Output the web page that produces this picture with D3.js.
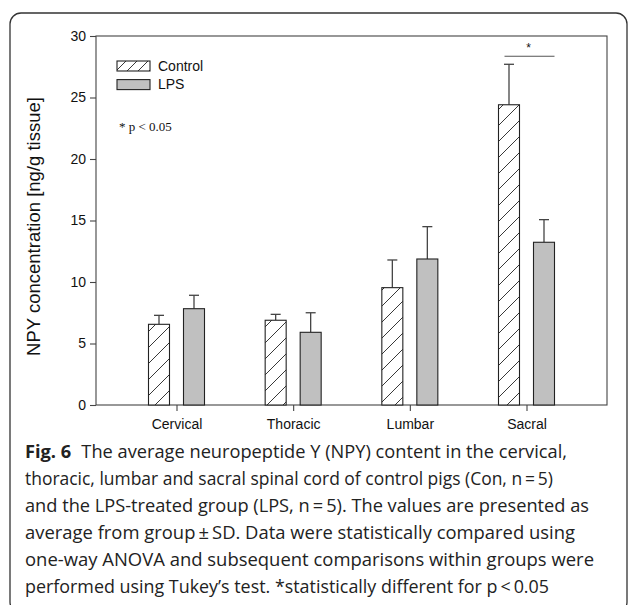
<!DOCTYPE html>
<meta charset="utf-8">
<script src="https://d3js.org/d3.v7.min.js"></script>
<style>
  body { margin: 0; background: #fff; }
</style>
<body>
<svg width="629" height="605" font-family="Liberation Sans, Arial, sans-serif"></svg>
<script>
  // values
  var regions = ["Cervical", "Thoracic", "Lumbar", "Sacral"];
  var groups = ["Control", "LPS"];
  var controlMean = [6.56, 6.89, 9.54, 24.41];
  var controlSD = [0.73, 0.48, 2.25, 3.29];
  var lpsMean = [7.83, 5.91, 11.87, 13.23];
  var lpsSD = [1.09, 1.59, 2.63, 1.84];
  var yTicks = [0, 5, 10, 15, 20, 25, 30];
  var sigRegion = "Sacral", sigLevel = 28.35;

  var captionBold = "Fig. 6";
  var captionLines = [
    "The average neuropeptide Y (NPY) content in the cervical,",
    "thoracic, lumbar and sacral spinal cord of control pigs (Con, n\u2009=\u20095)",
    "and the LPS-treated group (LPS, n\u2009=\u20095). The values are presented as",
    "average from group\u2009\u00b1\u2009SD. Data were statistically compared using",
    "one-way ANOVA and subsequent comparisons within groups were",
    "performed using Tukey\u2019s test. *statistically different for p\u2009<\u20090.05"
  ];
  var captionWidths = [542, 528, 564, 550, 569, 524];

  var svg = d3.select("svg");

  // outer rounded frame
  svg.append("rect")
    .attr("x", 10).attr("y", 13)
    .attr("width", 617).attr("height", 600)
    .attr("rx", 11)
    .attr("fill", "none")
    .attr("stroke", "#333")
    .attr("stroke-width", 1.3);

  var pLeft = 96, pRight = 607, pTop = 36, pBottom = 405;

  var x = d3.scalePoint().domain(regions).range([pLeft, pRight]).padding(0.69);
  var x1 = d3.scaleBand().domain(groups).range([-28, 28]).paddingInner(0.4);
  var y = d3.scaleLinear().domain([0, 30]).range([pBottom, pTop]);

  var defs = svg.append("defs");
  function hatch(id, size) {
    var p = defs.append("pattern")
      .attr("id", id)
      .attr("patternUnits", "userSpaceOnUse")
      .attr("width", size).attr("height", size);
    p.append("rect").attr("width", size).attr("height", size).attr("fill", "#fff");
    p.append("path")
      .attr("d", "M0," + size + "L" + size + ",0M-2,2L2,-2M" + (size - 2) + "," + (size + 2) + "L" + (size + 2) + "," + (size - 2))
      .attr("stroke", "#222").attr("stroke-width", 0.9);
  }
  hatch("hatchBar", 16);
  hatch("hatchLeg", 11);

  // plot box
  svg.append("rect")
    .attr("x", pLeft).attr("y", pTop)
    .attr("width", pRight - pLeft).attr("height", pBottom - pTop)
    .attr("fill", "none").attr("stroke", "#444").attr("stroke-width", 1.1);

  var data = [];
  regions.forEach(function (r, i) {
    data.push({ region: r, group: "Control", mean: controlMean[i], sd: controlSD[i] });
    data.push({ region: r, group: "LPS", mean: lpsMean[i], sd: lpsSD[i] });
  });

  // error bars (upper only)
  var err = svg.append("g").attr("stroke", "#444").attr("stroke-width", 1.3);
  data.forEach(function (d) {
    var cx = x(d.region) + x1(d.group) + x1.bandwidth() / 2;
    err.append("line")
      .attr("x1", cx).attr("x2", cx)
      .attr("y1", y(d.mean)).attr("y2", y(d.mean + d.sd));
    err.append("line")
      .attr("x1", cx - 5).attr("x2", cx + 5)
      .attr("y1", y(d.mean + d.sd)).attr("y2", y(d.mean + d.sd));
  });

  // bars
  svg.append("g").selectAll("rect")
    .data(data)
    .enter().append("rect")
    .attr("x", function (d) { return x(d.region) + x1(d.group); })
    .attr("y", function (d) { return y(d.mean); })
    .attr("width", x1.bandwidth())
    .attr("height", function (d) { return pBottom - y(d.mean); })
    .attr("fill", function (d) { return d.group === "Control" ? "url(#hatchBar)" : "#c0c0c0"; })
    .attr("stroke", "#222")
    .attr("stroke-width", 1.1);

  // axes
  var yAxis = svg.append("g")
    .attr("transform", "translate(" + pLeft + ",0)")
    .call(d3.axisLeft(y).tickValues(yTicks).tickSize(6).tickSizeOuter(0).tickPadding(4));
  var xAxis = svg.append("g")
    .attr("transform", "translate(0," + pBottom + ")")
    .call(d3.axisBottom(x).tickSize(6).tickSizeOuter(0).tickPadding(8));
  [yAxis, xAxis].forEach(function (g) {
    g.select(".domain").remove();
    g.attr("font-family", null).attr("font-size", null);
    g.selectAll("line").attr("stroke", "#444").attr("stroke-width", 1.1);
    g.selectAll("text")
      .attr("fill", "#111")
      .style("font-size", "14px");
  });

  // y label
  svg.append("text")
    .attr("transform", "translate(40," + ((pTop + pBottom) / 2 + 6) + ") rotate(-90)")
    .attr("text-anchor", "middle")
    .attr("fill", "#111")
    .style("font-size", "18.5px")
    .text("NPY concentration [ng/g tissue]");

  // legend
  var legend = svg.append("g");
  groups.forEach(function (g, i) {
    legend.append("rect")
      .attr("x", 117).attr("y", 61 + i * 18.6)
      .attr("width", 33).attr("height", 10)
      .attr("fill", g === "Control" ? "url(#hatchLeg)" : "#c0c0c0")
      .attr("stroke", "#222").attr("stroke-width", 1.1);
    legend.append("text")
      .attr("x", 158).attr("y", 71 + i * 18)
      .attr("fill", "#111")
      .style("font-size", "14px")
      .text(g);
  });

  svg.append("text")
    .attr("x", 119).attr("y", 131)
    .attr("fill", "#111")
    .style("font-family", '"Liberation Serif", "Times New Roman", serif')
    .style("font-size", "13px")
    .text("* p < 0.05");

  // significance bar
  var sx = x(sigRegion);
  svg.append("line")
    .attr("x1", sx - 22).attr("x2", sx + 28)
    .attr("y1", y(sigLevel)).attr("y2", y(sigLevel))
    .attr("stroke", "#555").attr("stroke-width", 1.1);
  svg.append("text")
    .attr("x", sx + 2).attr("y", y(sigLevel) - 4)
    .attr("text-anchor", "middle")
    .attr("fill", "#111")
    .style("font-size", "12px")
    .text("*");

  // caption
  var cap = svg.append("g");
  captionLines.forEach(function (line, i) {
    var t = cap.append("text")
      .attr("x", 25).attr("y", 458 + i * 27)
      .attr("fill", "#222")
      .style("font-family", '"Open Sans", "Noto Sans", sans-serif')
      .style("font-size", "18px")
      .attr("textLength", captionWidths[i])
      .attr("lengthAdjust", "spacingAndGlyphs");
    if (i === 0) {
      t.append("tspan").style("font-weight", "bold").text(captionBold);
      t.append("tspan").attr("dx", 10).text(line);
    } else {
      t.text(line);
    }
  });
</script>
</body>
